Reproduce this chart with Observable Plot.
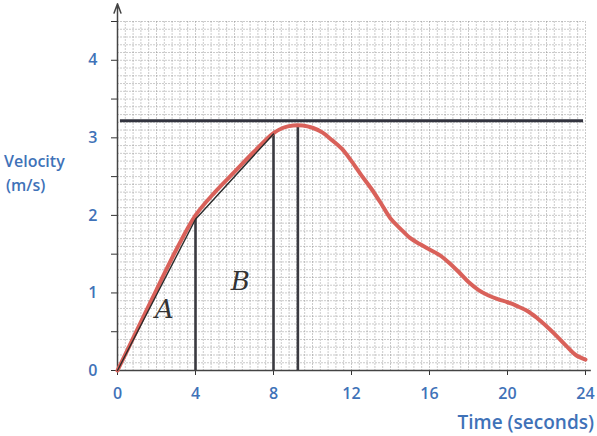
<!DOCTYPE html>
<html>
<head>
<meta charset="utf-8">
<script src="https://cdn.jsdelivr.net/npm/d3@7"></script>
<script src="https://cdn.jsdelivr.net/npm/@observablehq/plot@0.6"></script>
<style>
  html, body { margin: 0; padding: 0; background: #fff; }
  #chart { position: relative; width: 597px; height: 436px; }
</style>
</head>
<body>
<div id="chart"></div>
<script>
// Red measured velocity curve
const time = [0,1,2,3,4,5,6,7,8,8.5,9,9.5,10,10.5,11,11.5,12,12.5,13,13.5,14,14.5,15,15.5,16,16.5,17,17.5,18,18.5,19,19.5,20,20.5,21,21.5,22,22.5,23,23.5,24];
const velocity = [0,0.52,1.04,1.55,2.0,2.3,2.56,2.82,3.06,3.13,3.16,3.16,3.13,3.07,2.97,2.86,2.7,2.52,2.35,2.16,1.96,1.83,1.71,1.63,1.56,1.49,1.39,1.27,1.14,1.04,0.97,0.92,0.88,0.83,0.77,0.68,0.57,0.45,0.32,0.2,0.14];
// Chords (areas A and B)
const chordT = [0, 4, 8];
const chordV = [0, 1.95, 3.05];
// Vertical drop lines
const dropT = [4, 8, 9.25];
const dropV = [1.97, 3.05, 3.15];
// Horizontal max line
const maxLineV = 3.22;
const maxLineT = [0.15, 23.9];
// Area labels
const areaLabels = ["A", "B"];
const areaT = [2.4, 6.3];
const areaV = [0.78, 1.15];
// Ticks
const xTicks = [0, 4, 8, 12, 16, 20, 24];
const yTicks = [0, 0.5, 1, 1.5, 2, 2.5, 3, 3.5, 4, 4.5];
// Titles
const yTitle = ["Velocity", "(m/s)"];
const xTitle = "Time (seconds)";

const blue = "#3f72b8";
const font = "Open Sans, sans-serif";
const curve = time.map((t, i) => ({t, v: velocity[i]}));
const chords = chordT.map((t, i) => ({t, v: chordV[i]}));
const drops = dropT.map((t, i) => ({t, v: dropV[i]}));
const labels = areaLabels.map((s, i) => ({s, t: areaT[i], v: areaV[i]}));

const gridX = d3.range(0, 61).map(i => i * 0.4);
const gridY = d3.range(0, 46).map(i => i * 0.1);

const plot = Plot.plot({
  width: 597,
  height: 436,
  marginLeft: 117,
  marginRight: 12,
  marginTop: 21,
  marginBottom: 66,
  x: {domain: [0, 24]},
  y: {domain: [0, 4.5]},
  style: {fontFamily: font, background: "#fff"},
  marks: [
    Plot.ruleX(gridX, {stroke: "#777", strokeOpacity: 0.55, strokeWidth: 0.7, strokeDasharray: "2,1"}),
    Plot.ruleY(gridY, {stroke: "#777", strokeOpacity: 0.55, strokeWidth: 0.7, strokeDasharray: "2,1"}),
    Plot.axisY({ticks: yTicks, tickSize: 6, tickPadding: 14, stroke: "#333",
      tickFormat: d => Number.isInteger(d) ? d : "", fill: blue, fontSize: 16, fontWeight: "600", label: null}),
    Plot.axisX({ticks: xTicks, tickSize: 5, tickPadding: 12, stroke: "#333",
      fill: blue, fontSize: 16, fontWeight: "600", label: null}),
    Plot.ruleY([0], {x1: 0, x2: 24.3, stroke: "#444", strokeWidth: 1.5, clip: false}),
    Plot.arrow([{x1: 0, y1: 0, x2: 0, y2: 4.73}], {x1: "x1", y1: "y1", x2: "x2", y2: "y2",
      stroke: "#444", strokeWidth: 1.5, headLength: 10, headAngle: 40}),
    Plot.ruleY([maxLineV], {x1: maxLineT[0], x2: maxLineT[1], stroke: "#33343f", strokeWidth: 3}),
    Plot.ruleX(drops, {x: "t", y1: 0, y2: "v", stroke: "#3a3a40", strokeWidth: 2.6}),
    Plot.line(curve, {x: "t", y: "v", curve: "catmull-rom", stroke: "#d9615a", strokeWidth: 4, strokeLinecap: "round"}),
    Plot.line(chords, {x: "t", y: "v", stroke: "#2b2b2b", strokeWidth: 1.4}),
    Plot.text(labels, {x: "t", y: "v", text: "s", fontSize: 26, fontStyle: "italic",
      fontFamily: "DejaVu Serif, serif", fill: "#333", fontWeight: "normal"})
  ]
});
document.getElementById("chart").appendChild(plot);

const svg = d3.select(plot);
const addText = (x, y, s, size, anchor) => svg.append("text")
  .attr("x", x).attr("y", y).attr("text-anchor", anchor)
  .attr("fill", blue).attr("font-size", size).attr("font-weight", 600)
  .attr("font-family", font).text(s);
addText(4, 167, yTitle[0], 16, "start");
addText(6, 191, yTitle[1], 16, "start");
addText(594, 429, xTitle, 19, "end");
</script>
</body>
</html>
